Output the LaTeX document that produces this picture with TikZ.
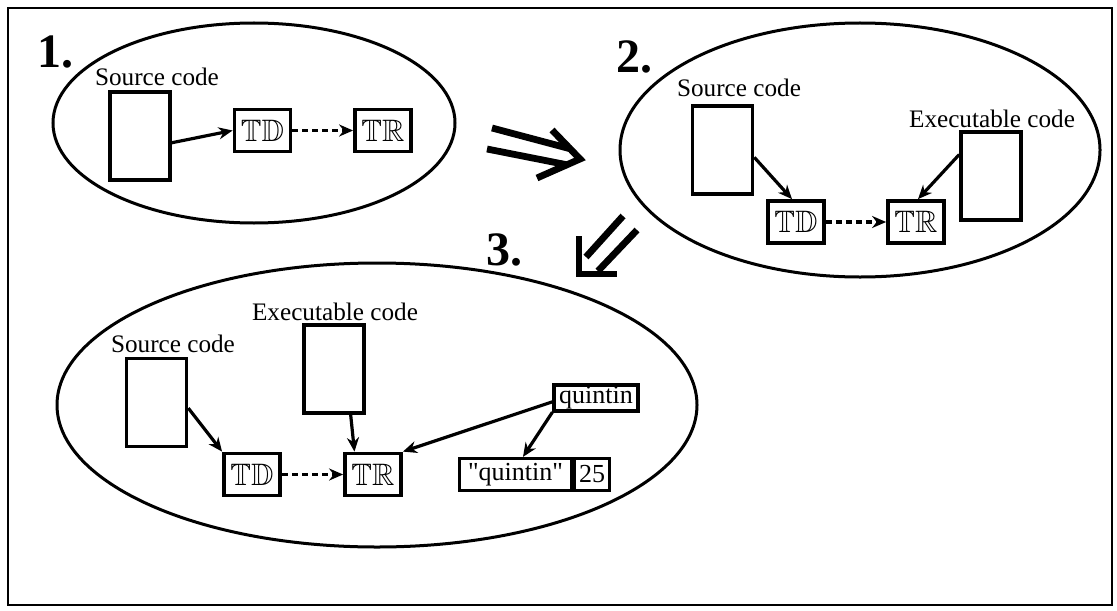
\documentclass[tikz,border=0pt]{standalone}
\usepackage{amssymb}
\usepackage{fontspec}
\setmainfont{Liberation Serif}[Ligatures=TeXOff]
\usetikzlibrary{arrows.meta}
\tikzset{
	codebox/.style={draw, line width=1.8pt, minimum width=30pt, minimum height=44pt, inner sep=0pt},
	tbox/.style={draw, line width=1.9pt, minimum width=28pt, minimum height=21pt, inner sep=0pt, font=\fontsize{15.5}{16}\selectfont},
	valbox/.style={draw, line width=1.6pt, minimum height=16pt, inner sep=0pt, font=\fontsize{13}{14}\selectfont},
	lbl/.style={anchor=base, inner sep=0pt, font=\fontsize{12.6}{14}\selectfont},
	stagenum/.style={anchor=base west, inner sep=0pt, font=\fontsize{24}{26}\selectfont\bfseries},
	link/.style={line width=1.6pt, -{Stealth[length=7pt,width=6pt]}},
	dlink/.style={link, line width=1.9pt, dash pattern=on 3pt off 2pt},
	bubble/.style={line width=1.5pt},
	bigarrow/.style={line width=3.4pt, miter limit=4}
}

\begin{document}
\begin{tikzpicture}[x=0.5pt, y=-0.5pt]
			%%%%% START %%%%%
			\useasboundingbox (0, 0) rectangle (1117, 610);
			\draw[line width=1.4pt] (8, 8) rectangle (1112, 605);
			
			% stage 1
			\draw[bubble] (254, 123) ellipse [x radius=201, y radius=100];
			\node[stagenum] (n1) at (37, 68) {1.};
			\node[lbl] (lbl1) at (157, 86) {Source code};
			\node[codebox] (src1) at (140, 136) {};
			\node[tbox] (td1) at (262.5, 130.5) {$\mathbb{TD}$};
			\node[tbox] (tr1) at (383, 130.5) {$\mathbb{TR}$};
			\draw[link] (src1.-12) -- (td1.west);
			\draw[dlink] (td1.east) -- (tr1.west);
			
			% big arrows
			\draw[bigarrow] (492, 128) -- (571, 149);
			\draw[bigarrow] (487, 149) -- (568, 165);
			\draw[bigarrow] (552, 130) -- (580, 159) -- (537, 178);
			
			\draw[bigarrow] (623, 216) -- (586, 257);
			\draw[bigarrow] (637, 230) -- (598, 271);
			\draw[bigarrow] (579, 236) -- (579, 274) -- (617, 274);
			
			% stage 2
			\draw[bubble] (860, 150) ellipse [x radius=240, y radius=127];
			\node[stagenum] (n2) at (616, 73) {2.};
			\node[lbl] (lbl2) at (739, 97) {Source code};
			\node[codebox] (src2) at (722.5, 150) {};
			\node[lbl] (lblx2) at (992, 127) {Executable code};
			\node[codebox] (exec2) at (991, 176) {};
			\node[tbox] (td2) at (796, 222) {$\mathbb{TD}$};
			\node[tbox] (tr2) at (916, 222) {$\mathbb{TR}$};
			\draw[link] (src2.-13) -- (td2.100);
			\draw[link] (exec2.146) -- (tr2.85);
			\draw[dlink] (td2.east) -- (tr2.west);
			
			% stage 3
			\draw[bubble] (377, 405) ellipse [x radius=320, y radius=142];
			\node[stagenum] (n3) at (486, 265) {3.};
			\node[lbl] (lbl3) at (173, 352) {Source code};
			\node[codebox] (src3) at (156.5, 402.5) {};
			\node[lbl] (lblx3) at (335, 320) {Executable code};
			\node[codebox] (exec3) at (334, 369) {};
			\node[tbox] (td3) at (252, 474.5) {$\mathbb{TD}$};
			\node[tbox] (tr3) at (373, 474.5) {$\mathbb{TR}$};
			\node[valbox, minimum width=42pt, minimum height=13pt] (qname) at (596, 398) {quintin};
			\node[valbox, minimum width=56pt] (qstr) at (515.5, 474.5) {"quintin"};
			\node[valbox, minimum width=17.5pt, anchor=west] (qval) at (qstr.east) {25};
			\draw[link] (src3.-10) -- (td3.north west);
			\draw[link] (exec3.-70) -- (tr3.129);
			\draw[link] (qname.-175) -- (tr3.north east);
			\draw[link] (qname.-162) -- (qstr.67);
			\draw[dlink] (td3.east) -- (tr3.west);
			%%%%% END %%%%%
\end{tikzpicture}
\end{document}
